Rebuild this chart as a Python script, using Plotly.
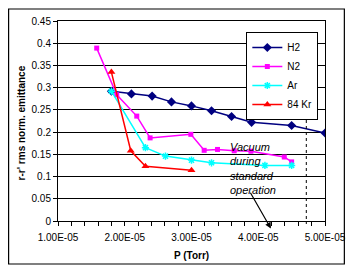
import plotly.graph_objects as go

# ---- data ----
h2_x = [1.80e-5, 2.10e-5, 2.41e-5, 2.70e-5, 3.00e-5, 3.30e-5, 3.60e-5, 3.90e-5, 4.50e-5, 5.00e-5]
h2_y = [0.292, 0.286, 0.281, 0.268, 0.259, 0.248, 0.235, 0.222, 0.215, 0.198]

n2_x = [1.58e-5, 1.88e-5, 2.18e-5, 2.38e-5, 2.99e-5, 3.19e-5, 3.39e-5, 3.64e-5, 3.89e-5, 4.39e-5, 4.50e-5]
n2_y = [0.389, 0.284, 0.236, 0.187, 0.195, 0.159, 0.161, 0.158, 0.157, 0.144, 0.133]

ar_x = [1.80e-5, 2.31e-5, 2.61e-5, 3.00e-5, 3.30e-5, 4.10e-5, 4.50e-5]
ar_y = [0.292, 0.165, 0.146, 0.137, 0.131, 0.125, 0.125]

kr_x = [1.80e-5, 2.09e-5, 2.31e-5, 3.00e-5]
kr_y = [0.335, 0.158, 0.123, 0.114]

x_tickvals = [1e-5, 2e-5, 3e-5, 4e-5, 5e-5]
x_ticktext = ["1.00E-05", "2.00E-05", "3.00E-05", "4.00E-05", "5.00E-05"]
y_tickvals = [0, 0.05, 0.1, 0.15, 0.2, 0.25, 0.3, 0.35, 0.4, 0.45]
y_ticktext = ["0", "0.05", "0.1", "0.15", "0.2", "0.25", "0.3", "0.35", "0.4", "0.45"]

x_title = "P (Torr)"
y_title = "r-r' rms norm. emittance"
note_lines = ["Vacuum", "during", "standard", "operation"]

# annotation positions (data units)
vac_line_x = 4.72e-5
arrow_tail = (3.87e-5, 0.067)
arrow_head = (4.19e-5, -0.017)

FONT = "Liberation Sans, Arial, sans-serif"

fig = go.Figure()
fig.add_trace(go.Scatter(x=h2_x, y=h2_y, name="H2", mode="lines+markers",
                         line=dict(color="#000080", width=1.5),
                         marker=dict(symbol="diamond", size=7, color="#000080")))
fig.add_trace(go.Scatter(x=n2_x, y=n2_y, name="N2", mode="lines+markers",
                         line=dict(color="#FF00FF", width=1.5),
                         marker=dict(symbol="square", size=5, color="#FF00FF")))
fig.add_trace(go.Scatter(x=ar_x, y=ar_y, name="Ar", mode="lines+markers",
                         line=dict(color="#00FFFF", width=1.5),
                         marker=dict(symbol="asterisk-open", size=6,
                                     line=dict(color="#00FFFF", width=1.5))))
fig.add_trace(go.Scatter(x=kr_x, y=kr_y, name="84 Kr", mode="lines+markers",
                         line=dict(color="#FF0000", width=1.5),
                         marker=dict(symbol="triangle-up", size=7, color="#FF0000")))

# dotted vertical line
fig.add_shape(type="line", xref="x", yref="paper", x0=vac_line_x, x1=vac_line_x,
              y0=0.655, y1=-0.015, line=dict(color="black", width=1, dash="dot"))
fig.add_annotation(x=vac_line_x, y=arrow_head[1], xref="x", yref="y", text="",
                   showarrow=True, ax=0, ay=-6, arrowhead=2, arrowsize=1,
                   arrowwidth=1, arrowcolor="black")
# solid arrow from text
fig.add_annotation(x=arrow_head[0], y=arrow_head[1], xref="x", yref="y",
                   ax=arrow_tail[0], ay=arrow_tail[1], axref="x", ayref="y",
                   text="", showarrow=True, arrowhead=2, arrowsize=1,
                   arrowwidth=1.2, arrowcolor="black")
fig.add_annotation(x=0.635, y=0.41, xref="paper", yref="paper",
                   xanchor="left", yanchor="top", align="left", showarrow=False,
                   text="<i>" + "<br>".join(note_lines) + "</i>",
                   font=dict(family=FONT, size=11, color="black"))

# axis titles
fig.add_annotation(x=0.5, y=-0.17, xref="paper", yref="paper",
                   xanchor="center", yanchor="middle", showarrow=False,
                   text="<b>" + x_title + "</b>",
                   font=dict(family=FONT, size=10, color="black"))
fig.add_annotation(x=-0.137, y=0.49, xref="paper", yref="paper",
                   xanchor="center", yanchor="middle", showarrow=False,
                   textangle=-90, text="<b>" + y_title + "</b>",
                   font=dict(family=FONT, size=10, color="black"))

# outer chart border
fig.add_shape(type="rect", xref="paper", yref="paper", x0=-0.185, x1=1.0725,
              y0=-0.215, y1=1.06, layer="above",
              line=dict(color="black", width=1.2))

fig.update_layout(
    width=347, height=262,
    margin=dict(l=50, r=30, t=13, b=49, autoexpand=False),
    paper_bgcolor="white", plot_bgcolor="white",
    font=dict(family=FONT, size=10, color="black"),
    showlegend=True,
    legend=dict(x=0.975, y=0.945, xanchor="right", yanchor="top",
                bgcolor="white", bordercolor="black", borderwidth=1,
                font=dict(family=FONT, size=10, color="black"),
                tracegroupgap=0, itemwidth=30),
    xaxis=dict(range=[1e-5, 5e-5], tickvals=x_tickvals, ticktext=x_ticktext,
               automargin=False,
               showgrid=False, zeroline=False, showline=True, linecolor="black",
               linewidth=1, mirror=True, ticks="outside", ticklen=4,
               tickcolor="black", tickfont=dict(size=10), ticklabelstandoff=3,
               minor=dict(dtick=2e-6, tick0=1e-5, ticks="outside", ticklen=4,
                          tickcolor="black", showgrid=False)),
    yaxis=dict(range=[0, 0.45], tickvals=y_tickvals, ticktext=y_ticktext,
               automargin=False,
               showgrid=True, gridcolor="black", gridwidth=1, zeroline=False,
               showline=True, linecolor="black", linewidth=1, mirror=True,
               ticks="outside", ticklen=4, tickcolor="black",
               tickfont=dict(size=10)),
)

fig.write_html("out.html")
